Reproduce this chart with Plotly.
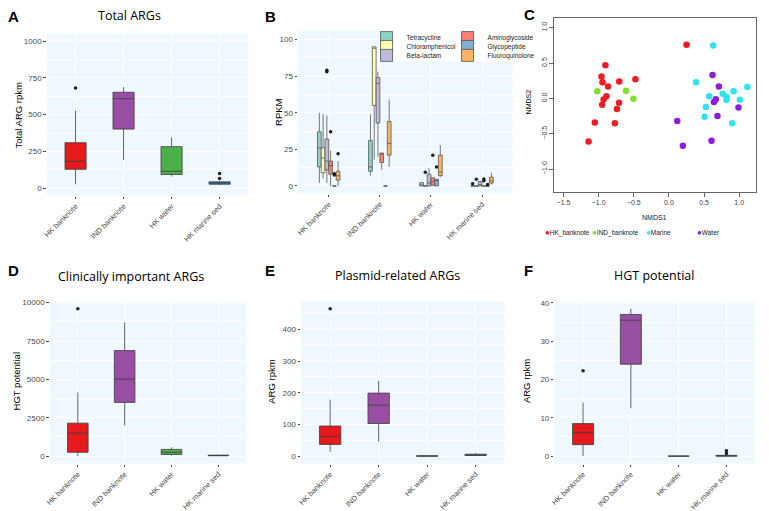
import plotly.graph_objects as go

W, H = 769, 511

categories = ["HK banknote", "IND banknote", "HK water", "HK marine sed"]
env_colors = ["#E41A1C", "#984EA3", "#4DAF4A", "#377EB8"]

# A - Total ARGs (rpkm)
total_lower = [27, 192, 80, 22]
total_q1 = [129, 402, 94, 28]
total_median = [183, 609, 116, 36]
total_q3 = [310, 652, 283, 44]
total_upper = [527, 687, 346, 50]
total_outliers = [[681], [], [], [67, 100]]

# D - Clinically important ARGs (HGT potential)
clin_lower = [0, 2000, 40, 10]
clin_q1 = [250, 3500, 110, 25]
clin_median = [1500, 5020, 250, 45]
clin_q3 = [2150, 6880, 440, 65]
clin_upper = [4150, 8720, 570, 90]
clin_outliers = [[9600], [], [], []]

# E - Plasmid-related ARGs (rpkm)
plasmid_lower = [14, 46, 0, 0]
plasmid_q1 = [37, 103, 0, 2]
plasmid_median = [62, 161, 0.5, 4]
plasmid_q3 = [95, 199, 1, 6]
plasmid_upper = [178, 238, 1.5, 10]
plasmid_outliers = [[465], [], [], []]

# F - HGT potential (rpkm)
hgt_lower = [0, 12.5, 0, 0]
hgt_q1 = [3, 24, 0, 0]
hgt_median = [6.2, 35.5, 0, 0.05]
hgt_q3 = [8.5, 37, 0, 0.2]
hgt_upper = [14, 38.5, 0, 0.4]
hgt_outliers = [[22.3], [], [], [0.7, 1.4]]

# B - RPKM per ARG class: (lower, q1, median, q3, upper) per category
arg_classes = ["Tetracycline", "Chloramphenicol", "Beta-lactam",
               "Aminoglycoside", "Glycopeptide", "Fluoroquinolone"]
class_colors = ["#8DD3C7", "#FFFFB3", "#BEBADA", "#FB8072", "#80B1D3", "#FDB462"]
tetracycline = [(2, 13, 26, 37, 50), (7, 10, 13, 31, 49), (0, 0, 0, 2.3, 2.3), (0, 0, 0, 0, 0)]
chloramphenicol = [(5, 9, 19, 26, 49), (18, 55, 94, 95, 95), (0, 0, 0, 0, 0), (0, 0, 0, 0, 0)]
beta_lactam = [(2, 11, 17, 32, 48), (20, 43, 70, 74, 78), (0, 0, 2, 8, 12), (0, 0, 1, 3, 3.5)]
aminoglycoside = [(0, 8, 14, 17, 24), (11, 16, 22, 22.5, 22.5), (0, 0.5, 3.2, 5.6, 5.6), (0, 0, 0, 0, 0)]
glycopeptide = [(0, 0, 0, 0, 0), (0, 0, 0, 0, 0), (0, 0, 4, 4.5, 4.5), (0, 0, 0, 0, 0)]
fluoroquinolone = [(0, 4, 7, 10, 17), (13, 21, 29, 44, 59), (6, 7, 9.5, 21, 28), (1, 2, 3.5, 6, 9)]
tetracycline_out = [[], [], [], [1.5]]
chloramphenicol_out = [[], [], [9.3], [4.5]]
beta_lactam_out = [[78, 79], [], [], []]
aminoglycoside_out = [[37], [], [21], [3.5, 4.8]]
glycopeptide_out = [[7.5, 8.3], [], [13], [1]]
fluoroquinolone_out = [[22], [], [], []]

# C - NMDS ordination
hk_nmds1 = [0.25, -0.904, -0.96, -0.946, -0.867, -0.707, -0.477, -0.93, -0.89, -0.95, -0.71, -0.74, -0.77, -1.055, -1.144]
hk_nmds2 = [0.76, 0.47, 0.31, 0.23, 0.17, 0.24, 0.27, -0.014, 0.03, -0.09, -0.06, -0.15, -0.35, -0.34, -0.61]
ind_nmds1 = [-1.02, -0.61, -0.506]
ind_nmds2 = [0.1, 0.11, -0.005]
marine_nmds1 = [0.63, 0.386, 0.573, 0.526, 0.507, 0.765, 0.82, 0.817, 0.92, 1.01, 1.117, 0.9]
marine_nmds2 = [0.75, 0.23, 0.03, -0.12, -0.26, 0.065, 0.02, -0.02, 0.1, -0.02, 0.16, -0.35]
water_nmds1 = [0.62, 0.71, 0.667, 0.64, 0.69, 0.99, 0.118, 0.198, 0.606]
water_nmds2 = [0.33, 0.17, -0.01, -0.05, -0.25, -0.13, -0.32, -0.67, -0.6]
nmds_groups = ["HK_banknote", "IND_banknote", "Marine", "Water"]
nmds_colors = ["#EE1C25", "#7FE030", "#30E3EE", "#8A1FE0"]


def px(x):
    return x / W


def py(y):
    return 1 - y / H


FONT = "Liberation Sans, Arial, sans-serif"
TICKFONT = dict(family=FONT, size=7.5, color="#4D4D4D")

fig = go.Figure()


def add_box(xa, ya, cat, stats, outs, fill, line, group, **kw):
    lo, q1, med, q3, up = stats
    extra = {}
    if outs:
        extra["y"] = [outs]
    fig.add_trace(go.Box(
        x=[cat], orientation="v",
        lowerfence=[lo], q1=[q1], median=[med], q3=[q3], upperfence=[up],
        boxpoints="outliers", jitter=0, pointpos=0, whiskerwidth=0,
        fillcolor=fill, line=line, marker=dict(color="#1A1A1A", size=3.5),
        offsetgroup=group, xaxis=xa, yaxis=ya, hoverinfo="skip", **extra, **kw))


def env_boxes(xa, ya, lower, q1, med, q3, upper, outliers):
    for i, cat in enumerate(categories):
        add_box(xa, ya, cat, (lower[i], q1[i], med[i], q3[i], upper[i]), outliers[i],
                env_colors[i], dict(color="#3C3C3C", width=0.8), "env" + xa, showlegend=False)


env_boxes("x", "y", total_lower, total_q1, total_median, total_q3, total_upper, total_outliers)

class_stats = [tetracycline, chloramphenicol, beta_lactam, aminoglycoside, glycopeptide, fluoroquinolone]
class_outs = [tetracycline_out, chloramphenicol_out, beta_lactam_out, aminoglycoside_out,
              glycopeptide_out, fluoroquinolone_out]
legend_rows = ["legend", "legend2", "legend3", "legend", "legend2", "legend3"]
for k, name in enumerate(arg_classes):
    for i, cat in enumerate(categories):
        add_box("x2", "y2", cat, class_stats[k][i], class_outs[k][i], class_colors[k],
                dict(color="#555555", width=0.8), name, name=name, legendgroup=name,
                showlegend=(i == 0), legend=legend_rows[k])

nmds_x = [hk_nmds1, ind_nmds1, marine_nmds1, water_nmds1]
nmds_y = [hk_nmds2, ind_nmds2, marine_nmds2, water_nmds2]
for g in range(4):
    fig.add_trace(go.Scatter(
        x=nmds_x[g], y=nmds_y[g], mode="markers", name=nmds_groups[g],
        marker=dict(color=nmds_colors[g], size=6.5, line=dict(width=0)),
        xaxis="x3", yaxis="y3", showlegend=False, hoverinfo="skip"))

env_boxes("x4", "y4", clin_lower, clin_q1, clin_median, clin_q3, clin_upper, clin_outliers)
env_boxes("x5", "y5", plasmid_lower, plasmid_q1, plasmid_median, plasmid_q3, plasmid_upper, plasmid_outliers)
env_boxes("x6", "y6", hgt_lower, hgt_q1, hgt_median, hgt_q3, hgt_upper, hgt_outliers)


def gg_x(x0, x1, y_anchor):
    return dict(domain=[px(x0), px(x1)], anchor=y_anchor, type="category",
                categoryorder="array", categoryarray=categories, range=[-0.6, 3.6],
                showgrid=True, gridcolor="white", gridwidth=1.1, zeroline=False, showline=False,
                ticks="outside", ticklen=2.5, tickwidth=0.8, tickcolor="#444", tickangle=-45,
                tickfont=TICKFONT, fixedrange=True)


def gg_y(y_top, y_bot, x_anchor, rng, dtick):
    return dict(domain=[py(y_bot), py(y_top)], anchor=x_anchor, range=rng, dtick=dtick, tick0=0,
                tickformat="d",
                showgrid=True, gridcolor="white", gridwidth=1.1, zeroline=False, showline=False,
                minor=dict(showgrid=True, gridcolor="white", gridwidth=0.5, dtick=dtick / 2, tick0=0),
                ticks="outside", ticklen=2.5, tickwidth=0.8, tickcolor="#444",
                tickfont=dict(family=FONT, size=8, color="#4D4D4D"), fixedrange=True)


c_axis = dict(showgrid=False, zeroline=False, showline=True, mirror=True, linecolor="#666",
              linewidth=1, ticks="outside", ticklen=4, tickcolor="#666", tickwidth=0.8,
              tickfont=dict(family=FONT, size=7, color="#444"), tickformat=".1f", fixedrange=True)

layout = dict(
    width=W, height=H, margin=dict(l=0, r=0, t=0, b=0),
    paper_bgcolor="white", plot_bgcolor="white",
    boxmode="group", boxgap=0.56, boxgroupgap=0,
    xaxis=gg_x(42, 245, "y"), yaxis=gg_y(31, 195, "x", [-50, 1050], 250),
    xaxis2=gg_x(295, 511, "y2"), yaxis2=gg_y(28, 193, "x2", [-5.3, 106], 25),
    xaxis3=dict(domain=[px(553), px(756)], anchor="y3", range=[-1.63, 1.24],
                tickvals=[-1.5, -1, -0.5, 0, 0.5, 1], **c_axis),
    yaxis3=dict(domain=[py(191), py(15)], anchor="x3", range=[-1.32, 1.14],
                tickvals=[-1, -0.5, 0, 0.5, 1], tickangle=-90, **c_axis),
    xaxis4=gg_x(45, 243, "y4"), yaxis4=gg_y(302, 466, "x4", [-480, 10080], 2500),
    xaxis5=gg_x(298, 503, "y5"), yaxis5=gg_y(302, 466, "x5", [-23.25, 488], 100),
    xaxis6=gg_x(553, 755, "y6"), yaxis6=gg_y(302, 466, "x6", [-1.93, 40.4], 10),
)

# B legend: three rows of two entries
for lg, yrow in [("legend", 35), ("legend2", 44), ("legend3", 53)]:
    layout[lg] = dict(orientation="h", x=px(376), xanchor="left", y=py(yrow), yanchor="middle",
                      bgcolor="rgba(0,0,0,0)", font=dict(family=FONT, size=6.5, color="#222"),
                      entrywidth=48, entrywidthmode="pixels", indentation=-12,
                      itemclick=False, itemdoubleclick=False)

fig.update_layout(**layout)

# aliceblue panel backgrounds for the ggplot panels
shapes = []
for xr, yr in [("x", "y"), ("x2", "y2"), ("x4", "y4"), ("x5", "y5"), ("x6", "y6")]:
    shapes.append(dict(type="rect", xref=xr + " domain", yref=yr + " domain", x0=0, x1=1, y0=0, y1=1,
                       fillcolor="#F0F8FF", line=dict(width=0), layer="below"))
shapes.append(dict(type="rect", xref="paper", yref="paper", x0=px(379), x1=px(511), y0=py(59), y1=py(28),
                   fillcolor="white", line=dict(width=0), layer="above"))
fig.update_layout(shapes=shapes)

ann = []
# panel letters
for letter, x, y in [("A", 1, 3), ("B", 260, 3), ("C", 520, 1), ("D", 1, 260), ("E", 260, 260), ("F", 520, 260)]:
    ann.append(dict(text="<b>%s</b>" % letter, x=px(x), y=py(y), xref="paper", yref="paper",
                    xanchor="left", yanchor="top", showarrow=False,
                    font=dict(family=FONT, size=15, color="black")))
# panel titles
for t, x, y in [("Total ARGs", 125, 13), ("Clinically important ARGs", 127, 277),
                ("Plasmid-related ARGs", 395, 276), ("HGT potential", 653, 276)]:
    ann.append(dict(text=t, x=px(x), y=py(y), xref="paper", yref="paper", xanchor="center",
                    yanchor="middle", showarrow=False,
                    font=dict(family="Open Sans, sans-serif", size=12.5, color="black")))
# y axis titles
for t, x, y, s in [("Total ARG rpkm", 14, 113, 9.5), ("RPKM", 275, 110, 9.5), ("NMDS2", 527, 100, 7),
                   ("HGT potential", 12, 383, 9.5), ("ARG rpkm", 268, 383, 9.5), ("ARG rpkm", 525, 383, 9.5)]:
    ann.append(dict(text=t, x=px(x), y=py(y), xref="paper", yref="paper", xanchor="center",
                    yanchor="middle", textangle=-90, showarrow=False,
                    font=dict(family=FONT, size=s, color="black")))
ann.append(dict(text="NMDS1", x=px(654), y=py(217), xref="paper", yref="paper", xanchor="center",
                yanchor="middle", showarrow=False, font=dict(family=FONT, size=7, color="#222")))
# C legend
for g, x in zip(range(4), [542, 589, 643, 695]):
    ann.append(dict(text='<span style="color:%s;font-size:8px">●</span>%s' % (nmds_colors[g], nmds_groups[g]),
                    x=px(x), y=py(232), xref="paper", yref="paper", xanchor="left", yanchor="middle",
                    showarrow=False, font=dict(family=FONT, size=6.5, color="#222")))
fig.update_layout(annotations=ann)

fig.write_html("out.html", config={"displayModeBar": False},
               post_script="document.body.style.margin='0';document.body.style.overflow='hidden';")
